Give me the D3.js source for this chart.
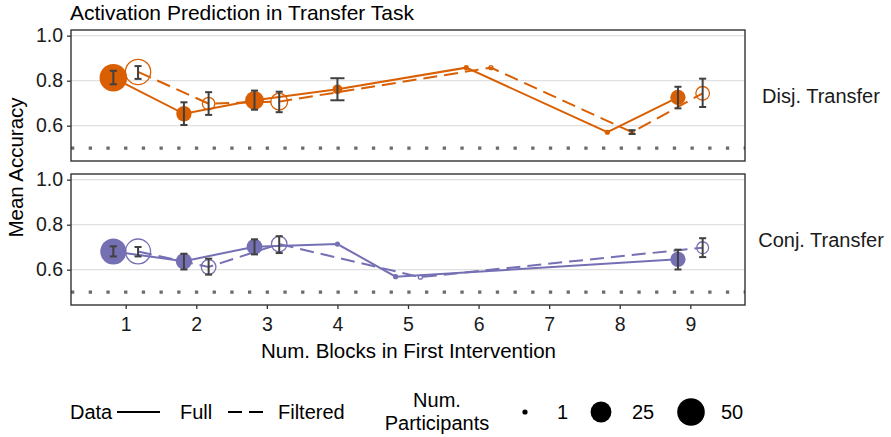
<!DOCTYPE html>
<html>
<head>
<meta charset="utf-8">
<script src="https://cdn.jsdelivr.net/npm/d3@7"></script>
<style>
  body { margin: 0; background: #fff; }
  text { font-family: "Liberation Sans", Arial, Helvetica, sans-serif; }
</style>
</head>
<body>
<svg id="chart" width="891" height="437"></svg>
<script>
// ---------------- DATA ----------------
const xTicks = [1, 2, 3, 4, 5, 6, 7, 8, 9];
const yTicks = [0.6, 0.8, 1.0];
const panelLabels = ["Disj. Transfer", "Conj. Transfer"];
const chanceLevel = 0.5;

// Disjunctive transfer – Full data
const disjFullX    = [1, 2, 3, 4, 6, 8, 9];
const disjFullMean = [0.813, 0.653, 0.713, 0.762, 0.858, 0.571, 0.726];
const disjFullLo   = [0.784, 0.603, 0.671, 0.713, null, null, 0.677];
const disjFullHi   = [0.844, 0.704, 0.756, 0.811, null, null, 0.773];
const disjFullN    = [50, 11, 19, 3, 1, 1, 11];

// Disjunctive transfer – Filtered data
const disjFiltX    = [1, 2, 3, 6, 8, 9];
const disjFiltMean = [0.839, 0.698, 0.707, 0.858, 0.571, 0.744];
const disjFiltLo   = [0.808, 0.648, 0.660, null, 0.563, 0.683];
const disjFiltHi   = [0.865, 0.749, 0.751, null, 0.580, 0.809];
const disjFiltN    = [45, 8, 17, 1, 1, 10];

// Conjunctive transfer – Full data
const conjFullX    = [1, 2, 3, 4, 5, 9];
const conjFullMean = [0.681, 0.638, 0.702, 0.714, 0.569, 0.646];
const conjFullLo   = [0.659, 0.601, 0.668, null, null, 0.601];
const conjFullHi   = [0.704, 0.671, 0.735, null, null, 0.689];
const conjFullN    = [44, 13, 12, 1, 1, 11];

// Conjunctive transfer – Filtered data
const conjFiltX    = [1, 2, 3, 5, 9];
const conjFiltMean = [0.681, 0.612, 0.714, 0.567, 0.698];
const conjFiltLo   = [0.659, 0.578, 0.674, null, 0.656];
const conjFiltHi   = [0.701, 0.649, 0.749, null, 0.740];
const conjFiltN    = [44, 12, 14, 1, 7];

const legendSizes = [1, 25, 50];

// ---------------- BUILD ----------------
function rows(xs, m, lo, hi, n) {
  return xs.map((x, i) => ({ x, mean: m[i], lo: lo[i], hi: hi[i], n: n[i] }));
}
const panels = [
  { label: panelLabels[0], color: "#D95F02",
    full: rows(disjFullX, disjFullMean, disjFullLo, disjFullHi, disjFullN),
    filt: rows(disjFiltX, disjFiltMean, disjFiltLo, disjFiltHi, disjFiltN) },
  { label: panelLabels[1], color: "#7570B3",
    full: rows(conjFullX, conjFullMean, conjFullLo, conjFullHi, conjFullN),
    filt: rows(conjFiltX, conjFiltMean, conjFiltLo, conjFiltHi, conjFiltN) }
];

const svg = d3.select("#chart");
const font = '"Liberation Sans", Arial, Helvetica, sans-serif';
const txt = "#1a1a1a";

const L = 71, R = 745;
const panelTops = [30, 174];
const panelH = 131;

const x = d3.scaleLinear().domain([0.225, 9.775]).range([L, R]);
const yRel = d3.scaleLinear().domain([1.0, 0.5]).range([5.7, 118.2]);
// size: area-like (ggplot style)
const rScale = n => 2.6 + Math.sqrt((n - 1) / 49) * 11.2;

const dodge = 0.175;
const capFull = 0.1;
const dash = "14,7";

// title
svg.append("text").attr("x", 70).attr("y", 20)
  .attr("font-size", 21).attr("fill", "#000")
  .text("Activation Prediction in Transfer Task");

panels.forEach((p, pi) => {
  const top = panelTops[pi];
  const y = v => top + yRel(v);
  const g = svg.append("g");

  const fullSet = new Set(p.full.map(d => d.x));
  const filtSet = new Set(p.filt.map(d => d.x));
  const both = v => fullSet.has(v) && filtSet.has(v);
  p.full.forEach(d => { d.px = both(d.x) ? d.x - dodge : d.x; d.cap = both(d.x) ? capFull / 2 : capFull; });
  p.filt.forEach(d => { d.px = both(d.x) ? d.x + dodge : d.x; d.cap = both(d.x) ? capFull / 2 : capFull; });

  // grid
  yTicks.forEach(t => {
    g.append("line").attr("x1", L).attr("x2", R).attr("y1", y(t)).attr("y2", y(t))
      .attr("stroke", "#e0e0e0").attr("stroke-width", 1.2);
  });
  // chance line
  g.append("line").attr("x1", L).attr("x2", R).attr("y1", y(chanceLevel)).attr("y2", y(chanceLevel))
    .attr("stroke", "#6b6b6b").attr("stroke-width", 3.3).attr("stroke-dasharray", "3.3,14.4");

  const line = d3.line().x(d => x(d.px)).y(d => y(d.mean));
  g.append("path").datum(p.full).attr("d", line).attr("fill", "none")
    .attr("stroke", p.color).attr("stroke-width", 2);
  g.append("path").datum(p.filt).attr("d", line).attr("fill", "none")
    .attr("stroke", p.color).attr("stroke-width", 2).attr("stroke-dasharray", dash);

  // points
  g.selectAll(".pf").data(p.full).enter().append("circle")
    .attr("cx", d => x(d.px)).attr("cy", d => y(d.mean)).attr("r", d => rScale(d.n))
    .attr("fill", p.color);
  g.selectAll(".po").data(p.filt).enter().append("circle")
    .attr("cx", d => x(d.px)).attr("cy", d => y(d.mean)).attr("r", d => rScale(d.n) - 0.6)
    .attr("fill", "none").attr("stroke", p.color).attr("stroke-width", 1.3);

  // error bars
  const eb = p.full.concat(p.filt).filter(d => d.lo != null);
  eb.forEach(d => {
    const cx = x(d.px), w = x(d.px + d.cap) - cx;
    const eg = g.append("g").attr("stroke", "#404040").attr("stroke-width", 2).attr("fill", "none");
    eg.append("line").attr("x1", cx).attr("x2", cx).attr("y1", y(d.lo)).attr("y2", y(d.hi));
    eg.append("line").attr("x1", cx - w).attr("x2", cx + w).attr("y1", y(d.lo)).attr("y2", y(d.lo));
    eg.append("line").attr("x1", cx - w).attr("x2", cx + w).attr("y1", y(d.hi)).attr("y2", y(d.hi));
  });

  // border
  g.append("rect").attr("x", L).attr("y", top).attr("width", R - L).attr("height", panelH)
    .attr("fill", "none").attr("stroke", "#333").attr("stroke-width", 1.4);

  // y axis
  const ys = d3.scaleLinear().domain(yRel.domain()).range(yRel.range().map(v => v + top));
  const yAxis = d3.axisLeft(ys).tickValues(yTicks).tickFormat(d3.format(".1f")).tickSizeOuter(0).tickSize(4).tickPadding(4);
  const ya = svg.append("g").attr("transform", `translate(${L},0)`).call(yAxis);
  ya.select(".domain").remove();
  ya.selectAll("line").attr("stroke", "#333").attr("stroke-width", 1.3);
  ya.selectAll("text").attr("font-size", 19.5).attr("fill", txt).attr("font-family", font);

  // strip label
  svg.append("text").attr("x", 821).attr("y", top + panelH / 2).attr("text-anchor", "middle")
    .attr("dominant-baseline", "central").attr("font-size", 20).attr("fill", txt)
    .text(p.label);
});

// x axis
const xAxis = d3.axisBottom(x).tickValues(xTicks).tickFormat(d3.format("d")).tickSizeOuter(0).tickSize(4).tickPadding(8);
const xa = svg.append("g").attr("transform", `translate(0,${panelTops[1] + panelH})`).call(xAxis);
xa.select(".domain").remove();
xa.selectAll("line").attr("stroke", "#333").attr("stroke-width", 1.3);
xa.selectAll("text").attr("font-size", 19.5).attr("fill", txt).attr("font-family", font);

svg.append("text").attr("x", (L + R) / 2 + 0.5).attr("y", 358).attr("text-anchor", "middle")
  .attr("font-size", 20.5).attr("fill", "#000").text("Num. Blocks in First Intervention");
svg.append("text").attr("transform", `translate(23,${(panelTops[0] + panelTops[1] + panelH) / 2}) rotate(-90)`)
  .attr("text-anchor", "middle").attr("font-size", 20.5).attr("fill", "#000").text("Mean Accuracy");

// legend
const ly = 412;
const lg = svg.append("g").attr("font-size", 20).attr("fill", "#000");
lg.append("text").attr("x", 70).attr("y", ly).attr("dominant-baseline", "central").text("Data");
lg.append("line").attr("x1", 117).attr("x2", 160).attr("y1", ly).attr("y2", ly).attr("stroke", "#000").attr("stroke-width", 2);
lg.append("text").attr("x", 180).attr("y", ly).attr("dominant-baseline", "central").text("Full");
lg.append("line").attr("x1", 228).attr("x2", 270).attr("y1", ly).attr("y2", ly).attr("stroke", "#000").attr("stroke-width", 2).attr("stroke-dasharray", dash);
lg.append("text").attr("x", 278).attr("y", ly).attr("dominant-baseline", "central").text("Filtered");
lg.append("text").attr("x", 437).attr("y", 400).attr("text-anchor", "middle").attr("dominant-baseline", "central").text("Num.");
lg.append("text").attr("x", 437).attr("y", 423).attr("text-anchor", "middle").attr("dominant-baseline", "central").text("Participants");
const legX = [525, 601, 691];
const legLX = [557, 632, 721];
legendSizes.forEach((n, i) => {
  lg.append("circle").attr("cx", legX[i]).attr("cy", ly).attr("r", rScale(n)).attr("fill", "#000");
  lg.append("text").attr("x", legLX[i]).attr("y", ly).attr("dominant-baseline", "central").text(n);
});
</script>
</body>
</html>
